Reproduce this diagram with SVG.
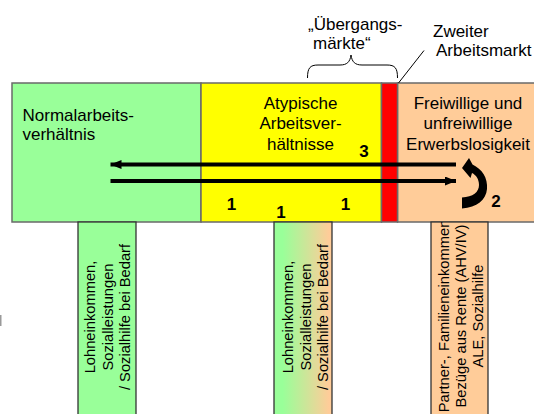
<svg xmlns="http://www.w3.org/2000/svg" width="534" height="414" viewBox="0 0 534 414">
  <style>
    .t { font-family: "Liberation Sans", Arial, sans-serif; font-size: 17px; fill: #000; }
    .n { font-family: "Liberation Sans", Arial, sans-serif; font-size: 17px; font-weight: bold; fill: #000; text-anchor: middle; }
    .v { font-family: "Liberation Sans", Arial, sans-serif; font-size: 14.7px; fill: #000; text-anchor: middle; }
    .c { text-anchor: middle; }
    .band { stroke: #6a6a6a; stroke-width: 1.5; }
    .box { stroke: #333; stroke-width: 1.3; }
    .arrow { stroke: #000; stroke-width: 4; fill: none; }
  </style>
  <defs>
    <linearGradient id="gr" x1="0" y1="0" x2="1" y2="0">
      <stop offset="0.15" stop-color="#99FF99"/>
      <stop offset="0.95" stop-color="#FFCC99"/>
    </linearGradient>
    <marker id="ah" viewBox="0 0 11 9" refX="11" refY="4.5" markerUnits="userSpaceOnUse" markerWidth="11" markerHeight="9" orient="auto">
      <path d="M0,0 L11,4.5 L0,9 Z" fill="#000"/>
    </marker>
    <clipPath id="clip3"><rect x="431" y="222" width="57" height="192"/></clipPath>
  </defs>

  <rect x="0" y="315" width="1.5" height="11" fill="#9a9a9a"/>

  <g id="band-normal">
    <rect class="band" x="12" y="83" width="189" height="139" fill="#99FF99"/>
    <text class="t" x="22.5" y="121">Normalarbeits-</text>
    <text class="t" x="22.5" y="140">verhältnis</text>
  </g>
  <g id="band-atypisch">
    <rect class="band" x="201" y="83" width="180.5" height="139" fill="#FFFF00"/>
    <text class="t c" x="300.5" y="109">Atypische</text>
    <text class="t c" x="300.5" y="129">Arbeitsver-</text>
    <text class="t c" x="300.5" y="150">hältnisse</text>
  </g>
  <g id="band-orange">
    <rect class="band" x="397.5" y="83" width="140" height="139" fill="#FFCC99"/>
    <text class="t c" x="468" y="109">Freiwillige und</text>
    <text class="t c" x="468" y="129">unfreiwillige</text>
    <text class="t c" x="468" y="150">Erwerbslosigkeit</text>
  </g>
  <g id="band-zweiter">
    <rect class="band" x="381.5" y="83" width="16" height="139" fill="#FF0000"/>
  </g>

  <g id="label-uebergang">
    <text class="t" x="308" y="30">„Übergangs-</text>
    <text class="t" x="313" y="49">märkte“</text>
    <path d="M307.5 78 C307.5 68 310 65 318 65 L340 65 C347 65 350 62 351 55 C352 62 355 65 362 65 L387 65 C395 65 397.5 68 397.5 78" fill="none" stroke="#000" stroke-width="1"/>
  </g>
  <g id="label-zweiter">
    <text class="t" x="433" y="37">Zweiter</text>
    <text class="t" x="436" y="56">Arbeitsmarkt</text>
    <line x1="398.5" y1="83" x2="424" y2="50.5" stroke="#000" stroke-width="1"/>
  </g>

  <g id="box-1">
    <rect class="box" x="78" y="222" width="58" height="200" fill="#99FF99"/>
    <text class="v" transform="translate(95,317) rotate(-90)">Lohneinkommen,</text>
    <text class="v" transform="translate(112.5,317) rotate(-90)">Sozialleistungen</text>
    <text class="v" transform="translate(130,317) rotate(-90)">/ Sozialhilfe bei Bedarf</text>
  </g>
  <g id="box-2">
    <rect class="box" x="274" y="222" width="58" height="200" fill="url(#gr)"/>
    <text class="v" transform="translate(293,317) rotate(-90)">Lohneinkommen,</text>
    <text class="v" transform="translate(310.5,317) rotate(-90)">Sozialleistungen</text>
    <text class="v" transform="translate(328,317) rotate(-90)">/ Sozialhilfe bei Bedarf</text>
  </g>
  <g id="box-3">
    <rect class="box" x="431" y="222" width="57" height="200" fill="#FFCC99"/>
    <g clip-path="url(#clip3)">
      <text class="v" transform="translate(449,316) rotate(-90)">Partner-, Familieneinkommen</text>
    </g>
    <text class="v" transform="translate(466,316) rotate(-90)">Bezüge aus Rente (AHV/IV)</text>
    <text class="v" transform="translate(483,316) rotate(-90)">ALE, Sozialhilfe</text>
  </g>

  <g id="connectors">
    <line class="arrow" x1="456" y1="164.5" x2="110.5" y2="164.5" marker-end="url(#ah)"/>
    <line class="arrow" x1="110.5" y1="181" x2="456" y2="181" marker-end="url(#ah)"/>
    <path d="M462 168 L469 158 L472.5 164.5 C482 169 488 178 487 189 C486 200 477 207.5 462 208.5 L462 197.5 C473 197 479 192 479 185 C479 179 476 175 472 173 L470.5 178 Z" fill="#000"/>
  </g>

  <g id="numbers">
    <text class="n" x="364" y="157">3</text>
    <text class="n" x="231.5" y="210">1</text>
    <text class="n" x="281" y="218">1</text>
    <text class="n" x="345.5" y="210">1</text>
    <text class="n" x="496" y="207">2</text>
  </g>
</svg>
